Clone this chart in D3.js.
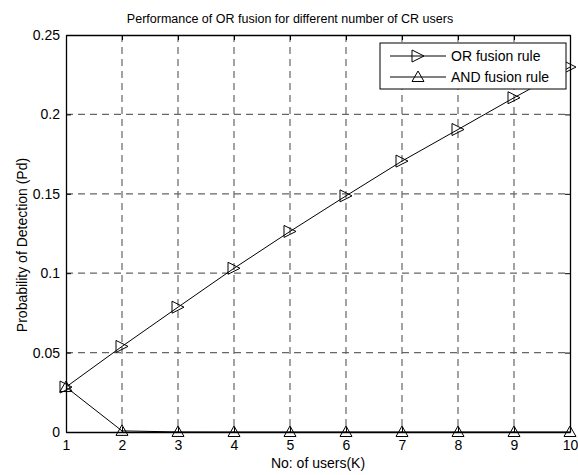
<!DOCTYPE html>
<html>
<head>
<meta charset="utf-8">
<script src="https://cdn.jsdelivr.net/npm/d3@7"></script>
<style>
    body { margin: 0; background: #fff; }
    svg { display: block; font-family: "Liberation Sans", Arial, sans-serif; }
</style>
</head>
<body>
<div id="chart"></div>
<script>
// Data
const users = [1, 2, 3, 4, 5, 6, 7, 8, 9, 10];
const orFusion = [0.0283, 0.0539, 0.0786, 0.1031, 0.1263, 0.1487, 0.1706, 0.1905, 0.2105, 0.2298];
const andFusion = [0.0283, 0.0007, 0.00003, 0, 0, 0, 0, 0, 0, 0];
const xTicks = [1, 2, 3, 4, 5, 6, 7, 8, 9, 10];
const yTicks = [0, 0.05, 0.1, 0.15, 0.2, 0.25];
const yTickLabels = ['0', '0.05', '0.1', '0.15', '0.2', '0.25'];

const width = 578, height = 475;
const margin = {top: 35, right: 8, bottom: 43, left: 66};
const plotW = width - margin.left - margin.right;
const plotH = height - margin.top - margin.bottom;

const svg = d3.select('#chart').append('svg')
    .attr('width', width)
    .attr('height', height);

const x = d3.scaleLinear().domain([1, 10]).range([margin.left, margin.left + plotW]);
const y = d3.scaleLinear().domain([0, 0.25]).range([margin.top + plotH, margin.top]);

// grid
const grid = svg.append('g').attr('class', 'grid');
grid.selectAll('.vgrid')
    .data(xTicks.slice(1, -1))
    .enter().append('line')
    .attr('x1', d => x(d)).attr('x2', d => x(d))
    .attr('y1', margin.top).attr('y2', margin.top + plotH)
    .attr('stroke', '#666').attr('stroke-width', 1.2)
    .attr('stroke-dasharray', '7,5');
grid.selectAll('.hgrid')
    .data(yTicks.slice(1, -1))
    .enter().append('line')
    .attr('x1', margin.left).attr('x2', margin.left + plotW)
    .attr('y1', d => y(d)).attr('y2', d => y(d))
    .attr('stroke', '#666').attr('stroke-width', 1.2)
    .attr('stroke-dasharray', '7,5');

// axes (ticks inside, box on)
const bottomAxis = d3.axisBottom(x).tickValues(xTicks).tickSize(-5).tickPadding(8).tickSizeOuter(0);
const leftAxis = d3.axisLeft(y).tickValues(yTicks).tickSize(-5).tickPadding(6).tickSizeOuter(0)
    .tickFormat((d, i) => yTickLabels[i]);

const gx = svg.append('g')
    .attr('transform', `translate(0,${margin.top + plotH})`)
    .call(bottomAxis);
const gy = svg.append('g')
    .attr('transform', `translate(${margin.left},0)`)
    .call(leftAxis);
const gTop = svg.append('g')
    .attr('transform', `translate(0,${margin.top})`)
    .call(d3.axisTop(x).tickValues(xTicks).tickSize(-5).tickSizeOuter(0).tickFormat(''));
const gRight = svg.append('g')
    .attr('transform', `translate(${margin.left + plotW},0)`)
    .call(d3.axisRight(y).tickValues(yTicks).tickSize(-5).tickSizeOuter(0).tickFormat(''));

[gx, gy, gTop, gRight].forEach(g => {
    g.selectAll('path.domain').attr('stroke', '#000').attr('stroke-width', 1.3);
    g.selectAll('.tick line').attr('stroke', '#000');
    g.selectAll('.tick text').attr('fill', '#000').style('font-size', '14px')
        .style('font-family', '"Liberation Sans", Arial, sans-serif');
});

// lines
const line = d3.line()
    .x((d, i) => x(users[i]))
    .y(d => y(d));

svg.append('path')
    .datum(andFusion)
    .attr('d', line)
    .attr('fill', 'none')
    .attr('stroke', '#000')
    .attr('stroke-width', 1);

svg.append('path')
    .datum(orFusion)
    .attr('d', line)
    .attr('fill', 'none')
    .attr('stroke', '#000')
    .attr('stroke-width', 1);

// markers
const ms = 6;
function triRight(cx, cy) {
    return `M${cx - ms},${cy - ms}L${cx + ms},${cy}L${cx - ms},${cy + ms}Z`;
}
function triUp(cx, cy) {
    return `M${cx - ms},${cy + ms * 0.75}L${cx},${cy - ms}L${cx + ms},${cy + ms * 0.75}Z`;
}

svg.selectAll('.and-marker')
    .data(andFusion)
    .enter().append('path')
    .attr('d', (d, i) => triUp(x(users[i]), y(d)))
    .attr('fill', 'none')
    .attr('stroke', '#000')
    .attr('stroke-width', 1);

svg.selectAll('.or-marker')
    .data(orFusion)
    .enter().append('path')
    .attr('d', (d, i) => triRight(x(users[i]), y(d)))
    .attr('fill', 'none')
    .attr('stroke', '#000')
    .attr('stroke-width', 1);

// title and labels
svg.append('text')
    .attr('x', 290)
    .attr('y', 23)
    .attr('text-anchor', 'middle')
    .style('font-size', '12.5px')
    .text('Performance of OR fusion for different number of CR users');

svg.append('text')
    .attr('x', margin.left + plotW / 2)
    .attr('y', 468)
    .attr('text-anchor', 'middle')
    .style('font-size', '14px')
    .text('No: of users(K)');

svg.append('text')
    .attr('transform', `translate(27,245) rotate(-90)`)
    .attr('text-anchor', 'middle')
    .style('font-size', '14px')
    .text('Probability of Detection (Pd)');

// legend
const legendItems = [
    {label: 'OR fusion rule', marker: triRight},
    {label: 'AND fusion rule', marker: triUp}
];
const lg = svg.append('g');
lg.append('rect')
    .attr('x', 380).attr('y', 43)
    .attr('width', 186).attr('height', 46)
    .attr('fill', '#fff')
    .attr('stroke', '#000')
    .attr('stroke-width', 1);
legendItems.forEach((item, i) => {
    const ly = 56 + i * 21;
    lg.append('line')
        .attr('x1', 390).attr('x2', 446)
        .attr('y1', ly).attr('y2', ly)
        .attr('stroke', '#000');
    lg.append('path')
        .attr('d', item.marker(418, ly))
        .attr('fill', 'none')
        .attr('stroke', '#000');
    lg.append('text')
        .attr('x', 451)
        .attr('y', ly + 5)
        .style('font-size', '14px')
        .text(item.label);
});
</script>
</body>
</html>
